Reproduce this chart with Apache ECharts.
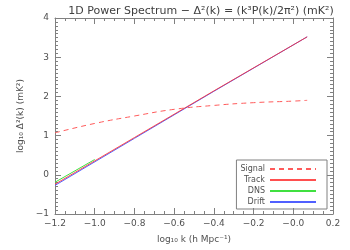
<!DOCTYPE html>
<html><head><meta charset="utf-8">
<script src="https://cdn.jsdelivr.net/npm/echarts@6/dist/echarts.min.js"></script>
<style>html,body{margin:0;padding:0;background:#fff}#c{width:350px;height:250px}</style>
</head><body><div id="c"></div>
<script>
// Data (log10 values)
var signalK = [-1.2, -1.0, -0.8, -0.6, -0.4, -0.2, 0.0, 0.07];
var signalV = [1.07, 1.31, 1.50, 1.67, 1.77, 1.84, 1.88, 1.90];
var trackK = [-1.2, -0.8, -0.4, 0.07];
var trackV = [-0.24, 0.95, 2.14, 3.52];
var dnsK = [-1.2, -1.0];
var dnsV = [-0.19, 0.39];
var driftK = [-1.2, -0.8, -0.4, 0.07];
var driftV = [-0.27, 0.93, 2.13, 3.52];
var xTickLabels = ['\u22121.2','\u22121.0','\u22120.8','\u22120.6','\u22120.4','\u22120.2','\u22120.0','0.2'];
var yTickLabels = ['\u22121','0','1','2','3','4'];

function pairs(k, v){ return k.map(function(x,i){return [x, v[i]];}); }

var gray = '#808080', txt = '#505050', F = 'DejaVu Sans';
var chart = echarts.init(document.getElementById('c'), null, {renderer:'canvas'});
function axisBase(){
  return {
    axisLine:{show:true, onZero:false, lineStyle:{color:gray, width:1}},
    axisTick:{show:true, inside:true, length:6, lineStyle:{color:gray}},
    minorTick:{show:true, length:3, lineStyle:{color:gray}},
    splitLine:{show:false}
  };
}
var xb = axisBase(), xt = axisBase(), yl = axisBase(), yr = axisBase();
var opt = {
  animation:false,
  title:{text:'1D Power Spectrum \u2212 \u0394\u00b2(k) = (k\u00b3P(k)/2\u03c0\u00b2) (mK\u00b2)', left:196, textAlign:'center', top:1,
    textStyle:{fontFamily:F, fontSize:11, fontWeight:'normal', color:'#404040'}},
  grid:{left:55, right:17, top:18, bottom:36},
  legend:{
    data:['Signal','Track','DNS','Drift'], orient:'vertical', right:23, top:160, align:'right',
    itemStyle:{opacity:0, borderWidth:0},
    itemWidth:46, itemHeight:7, itemGap:3, padding:[5,10,3,4], borderColor:gray, borderWidth:1,
    textStyle:{fontFamily:F, fontSize:8, color:txt}, selectedMode:false
  },
  xAxis:[
    Object.assign(xb, {type:'value', min:-1.2, max:0.2, interval:0.2, position:'bottom',
      minorTick:Object.assign(xb.minorTick,{splitNumber:4}),
      axisLabel:{fontFamily:F, fontSize:9, color:txt, margin:5, formatter:function(v){return xTickLabels[Math.round((v+1.2)/0.2)];}},
      name:'log\u2081\u2080 k (h Mpc\u207b\u00b9)', nameLocation:'middle', nameGap:21,
      nameTextStyle:{fontFamily:F, fontSize:9, color:txt}}),
    Object.assign(xt, {type:'value', min:-1.2, max:0.2, interval:0.2, position:'top',
      minorTick:Object.assign(xt.minorTick,{splitNumber:4}), axisLabel:{show:false}})
  ],
  yAxis:[
    Object.assign(yl, {type:'value', min:-1, max:4, interval:1, position:'left',
      minorTick:Object.assign(yl.minorTick,{splitNumber:10}),
      axisLabel:{fontFamily:F, fontSize:9, color:txt, margin:6, formatter:function(v){return yTickLabels[Math.round(v+1)];}},
      name:'log\u2081\u2080 \u0394\u00b2(k) (mK\u00b2)', nameLocation:'middle', nameGap:26,
      nameTextStyle:{fontFamily:F, fontSize:9, color:txt}}),
    Object.assign(yr, {type:'value', min:-1, max:4, interval:1, position:'right',
      minorTick:Object.assign(yr.minorTick,{splitNumber:10}), axisLabel:{show:false}})
  ],
  series:[
    {name:'Signal', type:'line', data:pairs(signalK, signalV), symbol:'none', smooth:true,
     lineStyle:{color:'#ff5a5a', width:1, type:[5,4]}, itemStyle:{color:'#ff5a5a'}},
    {name:'Drift', type:'line', data:pairs(driftK, driftV), symbol:'none',
     lineStyle:{color:'#5060ff', width:1}, itemStyle:{color:'#5060ff'}},
    {name:'Track', type:'line', data:pairs(trackK, trackV), symbol:'none',
     lineStyle:{color:'#ff3030', width:1, opacity:0.85}, itemStyle:{color:'#ff4040'}},
    {name:'DNS', type:'line', data:pairs(dnsK, dnsV), symbol:'none',
     lineStyle:{color:'#40e040', width:1}, itemStyle:{color:'#40e040'}}
  ]
};
chart.setOption(opt);
</script></body></html>
